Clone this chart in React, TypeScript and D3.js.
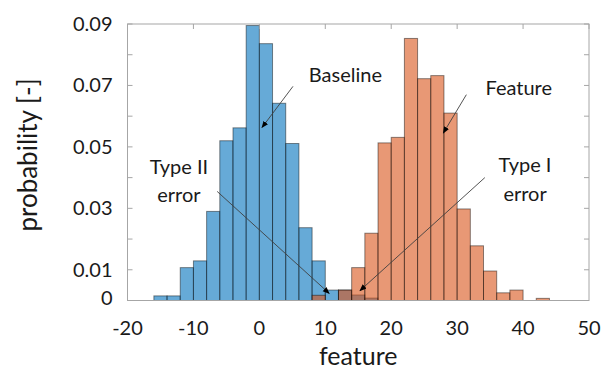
import React, { useRef, useEffect } from 'react';
import * as d3 from 'd3';

// histogram bins are 2 units wide
const binWidth = 2;
const baselineStart = -16;
const baselineProb = [0.0015, 0.0015, 0.0107, 0.0129, 0.029, 0.052, 0.0562, 0.0895, 0.0836, 0.0642, 0.0511, 0.0237, 0.0129, 0.0034, 0.0034, 0.0018, 0.0008];
const featureStart = 8;
const featureProb = [0.0017, 0, 0.0034, 0.0107, 0.0219, 0.0513, 0.0531, 0.0853, 0.0722, 0.0732, 0.061, 0.0298, 0.0178, 0.0096, 0.0025, 0.0034, 0, 0.0007];

const xTicks = [-20, -10, 0, 10, 20, 30, 40, 50];
const yTickMarks = [0, 0.01, 0.02, 0.03, 0.04, 0.05, 0.06, 0.07, 0.08, 0.09];
const yTickLabels = [0, 0.01, 0.03, 0.05, 0.07, 0.09];

// annotations in data coordinates
const notes = [
  { lines: ['Baseline'], x: 7.5, y: 0.0735, anchor: 'start' },
  { lines: ['Feature'], x: 34.3, y: 0.0693, anchor: 'start' },
  { lines: ['Type II', 'error'], x: -12.2, y: 0.0435, anchor: 'middle' },
  { lines: ['Type I', 'error'], x: 40.3, y: 0.0441, anchor: 'middle' },
];
const arrows = [
  { x1: 5.1, y1: 0.0697, x2: 0.4, y2: 0.0563 },
  { x1: 31.4, y1: 0.067, x2: 27.9, y2: 0.0545 },
  { x1: -6.4, y1: 0.0355, x2: 10.6, y2: 0.0023 },
  { x1: 34.2, y1: 0.040, x2: 15.25, y2: 0.0032 },
];

const font = 'Lato, "Open Sans", sans-serif';

const Chart: React.FC = () => {
  const svgRef = useRef<SVGSVGElement>(null);

  useEffect(() => {
    if (!svgRef.current) return;
    document.body.style.margin = '0';
    const svg = d3.select(svgRef.current);
    svg.selectAll('*').remove();

    const x = d3.scaleLinear().domain([-20, 50]).range([127.5, 589]);
    const y = d3.scaleLinear().domain([0, 0.09]).range([300.5, 24]);
    const [left, right] = x.range();
    const [bottom, top] = y.range();

    svg.append('defs').append('marker')
      .attr('id', 'head')
      .attr('viewBox', '0 0 10 10')
      .attr('refX', 9).attr('refY', 5)
      .attr('markerWidth', 7).attr('markerHeight', 7)
      .attr('markerUnits', 'userSpaceOnUse')
      .attr('orient', 'auto')
      .append('path')
      .attr('d', 'M0,1 L10,5 L0,9 Z')
      .attr('fill', '#000');

    const drawBars = (vals: number[], start: number, color: string) => {
      svg.append('g')
        .selectAll('rect')
        .data(vals.map((v, i) => ({ x0: start + i * binWidth, v })).filter(d => d.v > 0))
        .join('rect')
        .attr('x', d => x(d.x0))
        .attr('width', d => x(d.x0 + binWidth) - x(d.x0))
        .attr('y', d => y(d.v))
        .attr('height', d => y(0) - y(d.v))
        .attr('fill', color)
        .attr('fill-opacity', 0.6)
        .attr('stroke', '#000')
        .attr('stroke-opacity', 0.45)
        .attr('stroke-width', 1);
    };
    drawBars(baselineProb, baselineStart, '#0072bd');
    drawBars(featureProb, featureStart, '#d95319');

    // box
    const axisColor = '#a6a6a6';
    svg.append('rect')
      .attr('x', left).attr('y', top)
      .attr('width', right - left).attr('height', bottom - top)
      .attr('fill', 'none').attr('stroke', axisColor);

    const tickLen = 5;
    const ticks = svg.append('g').attr('stroke', axisColor);
    yTickMarks.forEach(t => {
      ticks.append('line').attr('x1', left).attr('x2', left + tickLen).attr('y1', y(t)).attr('y2', y(t));
      ticks.append('line').attr('x1', right).attr('x2', right - tickLen).attr('y1', y(t)).attr('y2', y(t));
    });
    xTicks.forEach(t => {
      ticks.append('line').attr('x1', x(t)).attr('x2', x(t)).attr('y1', top).attr('y2', top + tickLen);
    });

    svg.append('g')
      .selectAll('text')
      .data(yTickLabels)
      .join('text')
      .attr('x', left - 15)
      .attr('y', d => y(d) - (d === 0 ? 3 : 0))
      .attr('dy', '0.35em')
      .attr('text-anchor', 'end')
      .style('font-family', font)
      .style('font-size', '20px')
      .attr('fill', '#1a1a1a')
      .text(d => String(d));

    svg.append('g')
      .selectAll('text')
      .data(xTicks)
      .join('text')
      .attr('x', d => x(d))
      .attr('y', 335)
      .attr('text-anchor', 'middle')
      .style('font-family', font)
      .style('font-size', '20px')
      .attr('fill', '#1a1a1a')
      .text(d => String(d));

    svg.append('text')
      .attr('x', (left + right) / 2)
      .attr('y', 365)
      .attr('text-anchor', 'middle')
      .style('font-family', font)
      .style('font-size', '25px')
      .attr('fill', '#1a1a1a')
      .text('feature');

    svg.append('text')
      .attr('transform', `translate(37,${155}) rotate(-90)`)
      .attr('text-anchor', 'middle')
      .style('font-family', font)
      .style('font-size', '26px')
      .attr('fill', '#1a1a1a')
      .text('probability [-]');

    // arrows
    svg.append('g')
      .selectAll('line')
      .data(arrows)
      .join('line')
      .attr('x1', d => x(d.x1)).attr('y1', d => y(d.y1))
      .attr('x2', d => x(d.x2)).attr('y2', d => y(d.y2))
      .attr('stroke', '#404040')
      .attr('stroke-width', 0.9)
      .attr('marker-end', 'url(#head)');

    notes.forEach(n => {
      const t = svg.append('text')
        .attr('text-anchor', n.anchor)
        .style('font-family', font)
        .style('font-size', '20px')
        .attr('fill', '#1a1a1a');
      n.lines.forEach((line, i) => {
        t.append('tspan')
          .attr('x', x(n.x))
          .attr('y', y(n.y) + i * 28.5)
          .attr('dy', '0.35em')
          .text(line);
      });
    });
  }, []);

  return <svg ref={svgRef} width={606} height={369} style={{ display: 'block' }} />;
};

export default function App() {
  return <Chart />;
}
